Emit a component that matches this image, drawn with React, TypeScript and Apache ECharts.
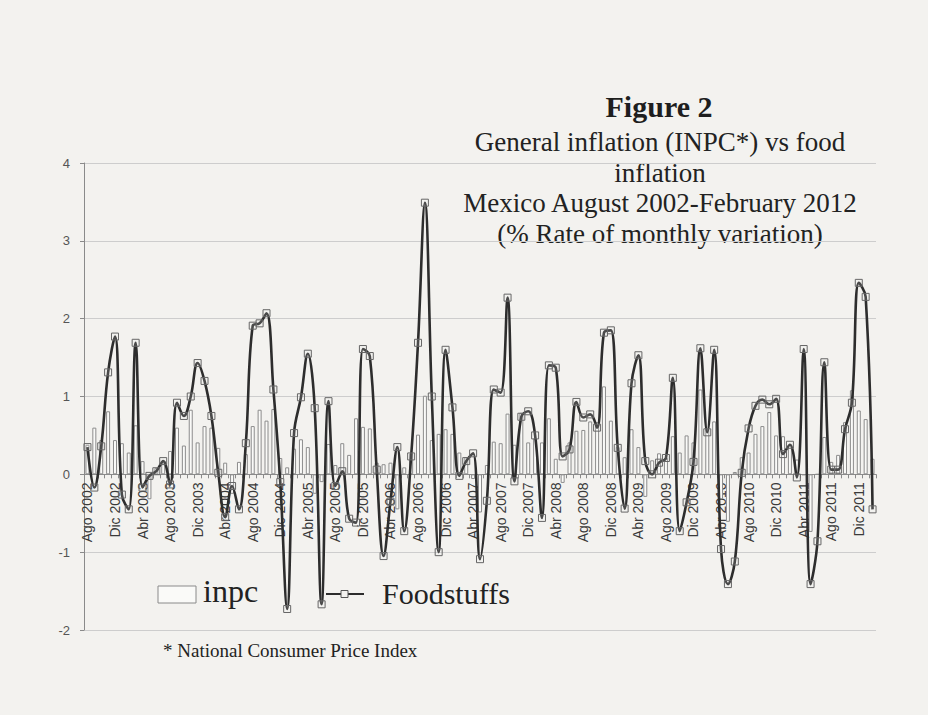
import React, { useEffect, useRef } from "react";
import * as echarts from "echarts";

const monthNames = ["Ene", "Feb", "Mar", "Abr", "May", "Jun", "Jul", "Ago", "Sep", "Oct", "Nov", "Dic"];
const firstYear = 2002;
const firstMonthIndex = 7; // Ago
const monthCount = 115; // Ago 2002 .. Feb 2012
const categories: string[] = [];
for (let k = 0; k < monthCount; k++) {
  const m = (firstMonthIndex + k) % 12;
  const y = firstYear + Math.floor((firstMonthIndex + k) / 12);
  categories.push(`${monthNames[m]} ${y}`);
}

// INPC monthly % variation
const inpc = [
  0.38, 0.6, 0.44, 0.81, 0.44,
  0.4, 0.28, 0.63, 0.17, -0.32, 0.08, 0.14, 0.3, 0.6, 0.37, 0.83, 0.41,
  0.62, 0.6, 0.34, 0.15, -0.25, 0.16, 0.26, 0.62, 0.83, 0.69, 0.84, 0.21,
  0.09, 0.33, 0.45, 0.35, -0.25, -0.1, 0.39, 0.12, 0.4, 0.25, 0.72, 0.61,
  0.59, 0.15, 0.13, 0.15, -0.45, 0.09, 0.27, 0.51, 1.01, 0.44, 0.52, 0.58,
  0.52, 0.28, 0.22, -0.06, -0.49, 0.12, 0.42, 0.4, 0.78, 0.38, 0.79, 0.41,
  0.46, 0.41, 0.72, 0.2, -0.11, 0.41, 0.56, 0.57, 0.68, 0.67, 1.13, 0.69,
  0.35, 0.22, 0.58, 0.35, -0.29, 0.18, 0.27, 0.21, 0.49, 0.28, 0.5, 0.41,
  1.09, 0.58, 0.68, -0.32, -0.61, 0.03, 0.22, 0.28, 0.52, 0.62, 0.8, 0.5,
  0.49, 0.38, 0.19, -0.01, -0.74, 0.0, 0.48, 0.16, 0.25, 0.67, 1.08, 0.82,
  0.71, 0.2,
];

// Foodstuffs monthly % variation
const foodstuffs = [
  0.35, -0.17, 0.36, 1.31, 1.77,
  -0.26, -0.45, 1.69, -0.17, -0.02, 0.04, 0.17, -0.13, 0.92, 0.75, 1.0, 1.43,
  1.2, 0.75, 0.02, -0.55, -0.15, -0.45, 0.4, 1.91, 1.94, 2.07, 1.09, -0.1,
  -1.73, 0.53, 0.99, 1.55, 0.85, -1.67, 0.94, -0.15, 0.04, -0.57, -0.62, 1.61,
  1.52, 0.06, -1.05, -0.35, 0.35, -0.73, 0.23, 1.69, 3.49, 1.0, -1.0, 1.6,
  0.86, -0.02, 0.17, 0.27, -1.09, -0.34, 1.09, 1.05, 2.27, -0.09, 0.74, 0.81,
  0.5, -0.56, 1.4, 1.37, 0.23, 0.32, 0.93, 0.73, 0.77, 0.6, 1.82, 1.85,
  0.34, -0.44, 1.17, 1.53, 0.17, 0.0, 0.15, 0.21, 1.24, -0.73, -0.36, 0.16,
  1.62, 0.54, 1.6, -0.96, -1.41, -1.12, 0.02, 0.59, 0.88, 0.96, 0.9, 0.97,
  0.26, 0.38, -0.04, 1.61, -1.41, -0.86, 1.44, 0.06, 0.06, 0.58, 0.92, 2.46,
  2.28, -0.45,
];

const yMin = -2;
const yMax = 4;
const yStep = 1;

const titleLines = [
  "General inflation (INPC*) vs food",
  "inflation",
  "Mexico August 2002-February 2012",
  "(% Rate of monthly variation)",
];

const serif = "'Liberation Serif', 'Times New Roman', serif";
const sans = "'Liberation Sans', Arial, sans-serif";

const GRID_TOP = 163;
const GRID_BOTTOM = 85;
const CHART_H = 715;

export default function App() {
  const ref = useRef<HTMLDivElement | null>(null);

  useEffect(() => {
    if (!ref.current) return;
    const chart = echarts.init(ref.current, null, { renderer: "svg" });

    // distance from the grid's bottom edge (value yMin) up to value 0
    const gridH = CHART_H - GRID_TOP - GRID_BOTTOM;
    const zeroOffset = (gridH * (0 - yMin)) / (yMax - yMin);

    const titleGraphics: any[] = [
      {
        type: "text",
        x: 659,
        y: 106,
        style: {
          text: "Figure 2",
          font: `bold 30px ${serif}`,
          fill: "#1e1e1e",
          align: "center",
          verticalAlign: "middle",
        },
      },
      ...titleLines.map((t, i) => ({
        type: "text",
        x: 660,
        y: 142 + i * 30.5,
        style: {
          text: t,
          font: `27px ${serif}`,
          fill: "#222",
          align: "center",
          verticalAlign: "middle",
        },
      })),
    ];

    const legendGraphics: any[] = [
      {
        type: "rect",
        shape: { x: 158, y: 586, width: 38, height: 17 },
        style: { fill: "#fafaf8", stroke: "#8a8a8a", lineWidth: 1 },
      },
      {
        type: "text",
        x: 203,
        y: 591,
        style: { text: "inpc", font: `32px ${serif}`, fill: "#222", verticalAlign: "middle" },
      },
      {
        type: "line",
        shape: { x1: 326, y1: 594, x2: 364, y2: 594 },
        style: { stroke: "#2d2d2d", lineWidth: 2 },
      },
      {
        type: "rect",
        shape: { x: 341, y: 590.5, width: 7, height: 7 },
        style: { fill: "#f3f2ef", stroke: "#555", lineWidth: 1 },
      },
      {
        type: "text",
        x: 382,
        y: 593.5,
        style: { text: "Foodstuffs", font: `30px ${serif}`, fill: "#222", verticalAlign: "middle" },
      },
      {
        type: "text",
        x: 163,
        y: 650.5,
        style: {
          text: "* National Consumer Price Index",
          font: `19px ${serif}`,
          fill: "#222",
          verticalAlign: "middle",
        },
      },
    ];

    chart.setOption({
      animation: false,
      backgroundColor: "#f3f2ef",
      grid: { left: 84, right: 52, top: GRID_TOP, bottom: GRID_BOTTOM, containLabel: false },
      xAxis: {
        type: "category",
        data: categories,
        boundaryGap: true,
        position: "bottom",
        offset: -zeroOffset,
        axisLine: { onZero: false, lineStyle: { color: "#8a8a8a", width: 1 } },
        axisTick: { show: true, interval: 0, length: 4, lineStyle: { color: "#8a8a8a" } },
        axisLabel: {
          interval: 3,
          rotate: 90,
          margin: 8,
          fontFamily: sans,
          fontSize: 14,
          color: "#3a3a3a",
        },
        splitLine: { show: false },
      },
      yAxis: {
        type: "value",
        min: yMin,
        max: yMax,
        interval: yStep,
        axisLine: { show: true, lineStyle: { color: "#8a8a8a", width: 1 } },
        axisTick: { show: true, length: 4, lineStyle: { color: "#8a8a8a" } },
        axisLabel: { fontFamily: sans, fontSize: 13, color: "#555", margin: 14 },
        splitLine: { show: true, lineStyle: { color: "#cdcdcd", width: 1 } },
      },
      series: [
        {
          name: "inpc",
          type: "bar",
          data: inpc,
          barWidth: 4,
          itemStyle: { color: "#fafaf8", borderColor: "#8c8c8c", borderWidth: 1 },
          z: 2,
        },
        {
          name: "Foodstuffs",
          type: "line",
          data: foodstuffs,
          smooth: 0.4,
          symbol: "rect",
          symbolSize: 7,
          showAllSymbol: true,
          lineStyle: { color: "#2d2d2d", width: 2.6 },
          itemStyle: { color: "rgba(243,242,239,0.15)", borderColor: "#666", borderWidth: 1 },
          z: 3,
        },
      ],
      graphic: [...titleGraphics, ...legendGraphics],
    });

    return () => chart.dispose();
  }, []);

  return (
    <div
      ref={ref}
      style={{ position: "absolute", left: 0, top: 0, width: 928, height: 715 }}
    />
  );
}
